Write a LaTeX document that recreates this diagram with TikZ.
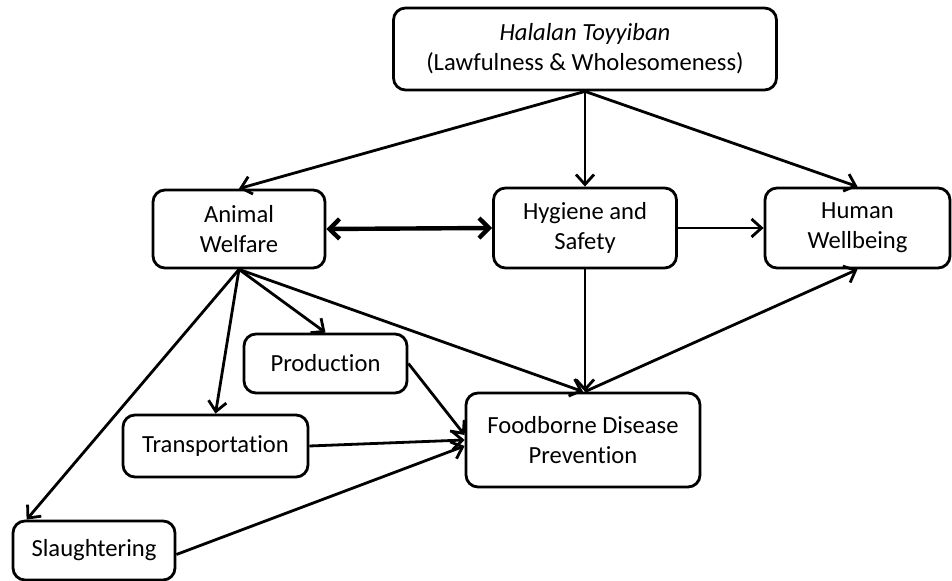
\documentclass[tikz,border=0pt]{standalone}
\usepackage{fontspec}
\setmainfont[Ligatures=NoCommon]{Carlito}
\usetikzlibrary{arrows.meta}

\begin{document}
\begin{tikzpicture}[x=0.5pt,y=-0.5pt,
  box/.style={draw,line width=1.4pt,rounded corners=6pt,align=center,inner sep=0pt,
    font=\fontsize{12.3}{15}\selectfont},
  arr/.style={line width=1.4pt,-{Straight Barb[length=5pt,width=9pt]}}]
\useasboundingbox (0,0) rectangle (952,581);
% boxes
\node [box,minimum width=191.5pt,minimum height=41pt] (halal) at (585,49) {\textit{Halalan Toyyiban}\\(Lawfulness \& Wholesomeness)};
\node [box,minimum width=86pt,minimum height=39pt] (animal) at (239,229) {Animal\\Welfare};
\node [box,minimum width=91.5pt,minimum height=40pt] (hygiene) at (585,228) {Hygiene and\\Safety};
\node [box,minimum width=92.5pt,minimum height=40pt] (human) at (857.5,228) {Human\\Wellbeing};
\node [box,minimum width=81.5pt,minimum height=29.5pt] (prod) at (325.5,363.5) {Production};
\node [box,minimum width=92.5pt,minimum height=31pt] (trans) at (215.5,446) {Transportation};
\node [box,minimum width=117pt,minimum height=47pt] (food) at (583,440) {Foodborne Disease\\Prevention};
\node [box,minimum width=81pt,minimum height=29.5pt] (slaughter) at (94,550.5) {Slaughtering};
% from the top
\draw [arr] (halal.south) -- (animal.north);
\draw [arr] (halal.south) -- (hygiene.north);
\draw [arr] (halal.south) -- (human.north);
% middle row
\draw [line width=2.2pt,{Straight Barb[length=5pt,width=10pt]}-{Straight Barb[length=5pt,width=10pt]}] (animal.east) -- (hygiene.west);
\draw [arr] (hygiene.east) -- (human.west);
\draw [arr] (hygiene.south) -- (hygiene.south |- food.north);
\draw [arr] (hygiene.south |- food.north) -- (human.south);
% animal welfare fan
\draw [arr] (animal.south) -- (food.north);
\draw [arr] (animal.south) -- (prod.north);
\draw [arr] (animal.south) -- (trans.north);
\draw [arr] (animal.south) -- ([xshift=7.5pt]slaughter.north west);
% into prevention
\draw [arr] (prod.east) -- ([yshift=2.5pt]food.west);
\draw [arr] (trans.east) -- (food.west);
\draw [arr] ([yshift=-2pt]slaughter.east) -- ([yshift=-3pt]food.west);
\end{tikzpicture}
\end{document}
